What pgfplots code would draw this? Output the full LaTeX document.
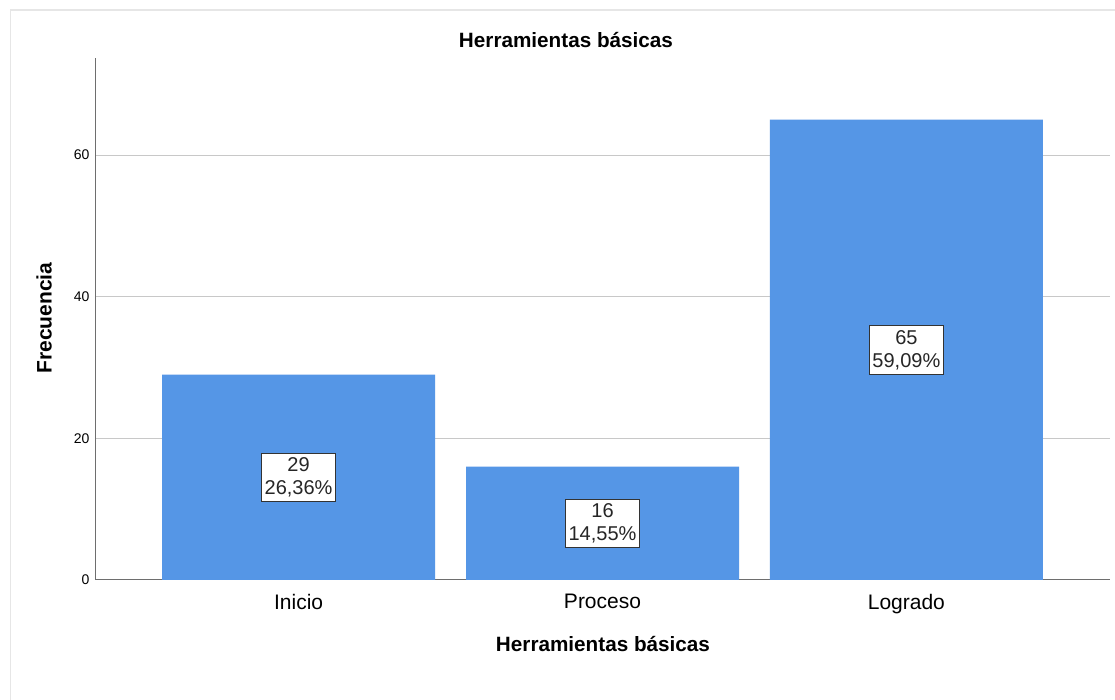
\documentclass[border=0pt]{standalone}
\usepackage{pgfplots}
\pgfplotsset{compat=1.18}
\usepackage{fontspec}
\setmainfont{Liberation Sans}
\definecolor{barblue}{HTML}{5596E6}
\definecolor{gridgray}{HTML}{C8C8C8}
\definecolor{axisgray}{HTML}{6E6E6E}
\definecolor{framegray}{HTML}{E6E6E6}
\begin{document}
\begin{tikzpicture}[x=1pt,y=1pt]
\useasboundingbox (0,0) rectangle (1115,700);
\fill[white] (0,0) rectangle (1115,700);
\draw[framegray, line width=1.5pt] (10.5,0) -- (10.5,690) -- (1115,690);
\begin{axis}[
  at={(95pt,120pt)}, anchor=south west,
  scale only axis, width=1015pt, height=522pt,
  xmin=-0.67, xmax=2.67, ymin=0, ymax=73.7,
  axis x line=bottom, axis y line=left,
  axis line style={axisgray, -, line width=1pt},
  xtick={0,1,2}, xticklabels={Inicio,Proceso,Logrado},
  ytick={0,20,40,60},
  major tick length=0pt,
  ymajorgrids, grid style={gridgray, line width=1pt},
  /pgf/number format/assume math mode=true,
  yticklabel style={font=\fontsize{14}{15}\selectfont, xshift=-2pt},
  xticklabel style={font=\fontsize{21}{24}\selectfont, yshift=-11pt},
  clip=false,
]
\addplot[ybar, bar width=273pt, fill=barblue, draw=none] coordinates {(0,29) (1,16) (2,65)};
\addplot[draw=none, mark=none, nodes near coords, point meta=explicit symbolic,
  every node near coord/.append style={anchor=center, align=center, fill=white,
    draw=black!80, line width=0.8pt, inner xsep=3pt, inner ysep=4.5pt,
    font=\fontsize{20}{23}\selectfont, text=black!85}]
  coordinates {(0,14.5) [{29\\26,36\%}] (1,8) [{16\\14,55\%}] (2,32.5) [{65\\59,09\%}]};
\end{axis}
\node[font=\bfseries\fontsize{20.7}{24}\selectfont] at (566,660) {Herramientas básicas};
\node[font=\bfseries\fontsize{20.7}{24}\selectfont] at (603,56) {Herramientas básicas};
\node[font=\bfseries\fontsize{21}{24}\selectfont, rotate=90] at (44,382) {Frecuencia};
\end{tikzpicture}
\end{document}
